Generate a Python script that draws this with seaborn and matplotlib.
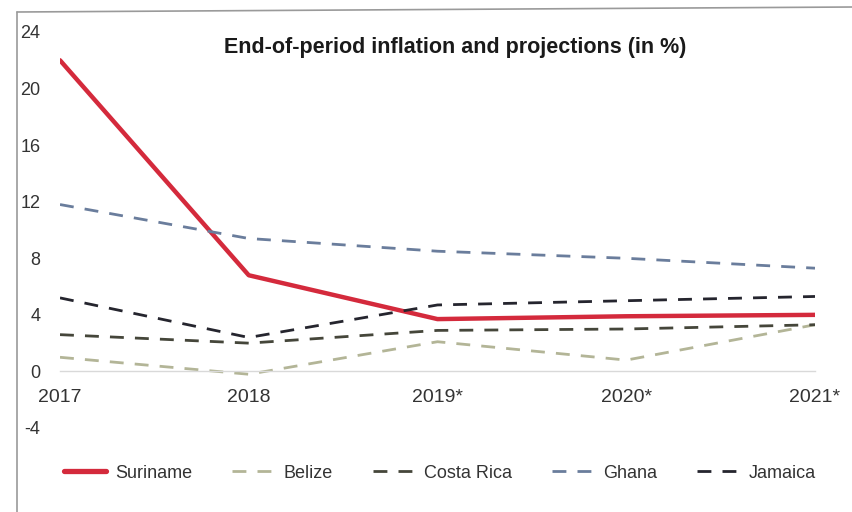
import matplotlib
matplotlib.use("Agg")
import matplotlib.pyplot as plt
from matplotlib.lines import Line2D
import pandas as pd
import seaborn as sns

years = ["2017", "2018", "2019*", "2020*", "2021*"]
suriname = [22.0, 6.8, 3.7, 3.9, 4.0]
belize = [1.0, -0.2, 2.1, 0.8, 3.3]
costa_rica = [2.6, 2.0, 2.9, 3.0, 3.3]
ghana = [11.8, 9.4, 8.5, 8.0, 7.3]
jamaica = [5.2, 2.4, 4.7, 5.0, 5.3]
y_ticks = [-4, 0, 4, 8, 12, 16, 20, 24]

series = {
    "Suriname": suriname,
    "Belize": belize,
    "Costa Rica": costa_rica,
    "Ghana": ghana,
    "Jamaica": jamaica,
}
colors = {
    "Suriname": "#d42a3c",
    "Belize": "#b3b597",
    "Costa Rica": "#45463a",
    "Ghana": "#6a7d9c",
    "Jamaica": "#25252e",
}

sns.set_theme(style="white")
plt.rcParams["font.family"] = ["Liberation Sans", "DejaVu Sans"]

df = pd.DataFrame(
    [(i, name, v) for name, vals in series.items() for i, v in enumerate(vals)],
    columns=["pos", "country", "value"],
)

fig = plt.figure(figsize=(8.53, 5.12), dpi=100)
fig.patch.set_facecolor("white")
ax = fig.add_axes([60 / 853, 1 - 428 / 512, (815 - 60) / 853, (428 - 32) / 512])

# x axis sits on the zero line
ax.spines["bottom"].set_position(("data", 0))

for name in series:
    sub = df[df["country"] == name]
    if name == "Suriname":
        sns.lineplot(data=sub, x="pos", y="value", ax=ax, color=colors[name],
                     linewidth=3.2, legend=False)
    else:
        sns.lineplot(data=sub, x="pos", y="value", ax=ax, color=colors[name],
                     linewidth=2.0, legend=False)
        ax.lines[-1].set_dashes((5, 4))

ax.set_xlim(0, 4)
ax.set_ylim(-4, 24)
ax.set_xlabel("")
ax.set_ylabel("")
ax.set_yticks(y_ticks)
ax.set_yticklabels([str(t) for t in y_ticks])
ax.set_xticks(range(len(years)))
ax.set_xticklabels(years)

for s in ["top", "right", "left"]:
    ax.spines[s].set_visible(False)
ax.spines["bottom"].set_color("#d9d9d9")
ax.spines["bottom"].set_linewidth(1.0)
ax.tick_params(axis="x", length=0, pad=13, labelsize=14, labelcolor="#333333")
ax.tick_params(axis="y", length=0, pad=14, labelsize=13, labelcolor="#333333")
ax.patch.set_alpha(0)

fig.text(455 / 853, 1 - 48 / 512, "End-of-period inflation and projections (in %)",
         ha="center", va="center", fontsize=15.5, fontweight="bold", color="#1a1a1a")

# outer frame of the chart
fig.add_artist(Line2D([17 / 853, 17 / 853], [0, 1 - 12 / 512], transform=fig.transFigure,
                      color="#9a9a9a", linewidth=1.2))
fig.add_artist(Line2D([17 / 853, 1], [1 - 12 / 512, 1 - 7 / 512], transform=fig.transFigure,
                      color="#9a9a9a", linewidth=1.2))

handles = []
for name in series:
    if name == "Suriname":
        h = Line2D([], [], color=colors[name], linewidth=3.8)
    else:
        h = Line2D([], [], color=colors[name], linewidth=2.0, dashes=(5, 4))
    handles.append(h)
leg = fig.legend(handles, list(series.keys()), loc="center", ncol=5,
                 bbox_to_anchor=(440 / 853, 1 - 473 / 512), frameon=False,
                 fontsize=13, handlelength=2.3, columnspacing=2.2, handletextpad=0.55)
for t in leg.get_texts():
    t.set_color("#333333")

fig.savefig("out.png", dpi=100, facecolor="white")
